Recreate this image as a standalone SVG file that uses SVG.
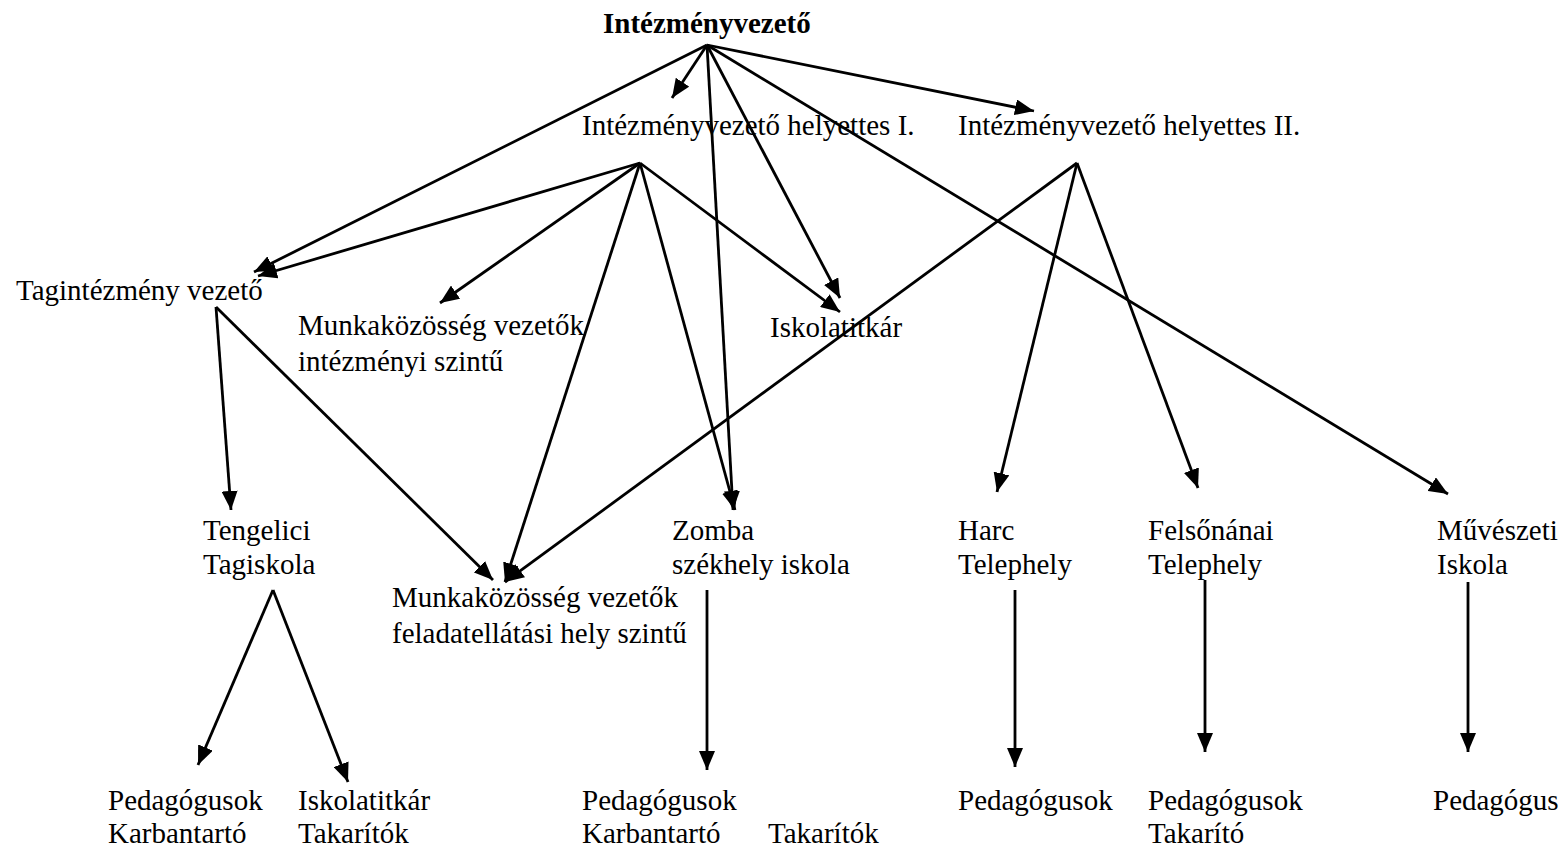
<svg xmlns="http://www.w3.org/2000/svg" width="1561" height="849" viewBox="0 0 1561 849">
<style>
text{font-family:"Liberation Serif","Times New Roman",serif;font-size:29px;fill:#000}
.b{font-weight:bold}
.c line{stroke:#000;stroke-width:2.8}
.c line.a{marker-end:url(#ah)}
</style>
<defs>
<marker id="ah" markerUnits="userSpaceOnUse" markerWidth="20" markerHeight="16" refX="19" refY="8" orient="auto">
<path d="M0,0 L19,8 L0,16 z" fill="#000"/>
</marker>
</defs>
<rect width="1561" height="849" fill="#fff"/>
<g class="c" id="connectors">
<line class="a" x1="707" y1="45" x2="672" y2="98"/>
<line class="a" x1="707" y1="45" x2="1034" y2="111"/>
<line class="a" x1="707" y1="45" x2="254" y2="272"/>
<line class="a" x1="707" y1="45" x2="733" y2="510"/>
<line class="a" x1="707" y1="45" x2="840" y2="298"/>
<line class="a" x1="707" y1="45" x2="1448" y2="494"/>
<line class="a" x1="640" y1="163" x2="258" y2="276"/>
<line class="a" x1="640" y1="163" x2="440" y2="303"/>
<line class="a" x1="640" y1="163" x2="505" y2="582"/>
<line class="a" x1="640" y1="163" x2="735" y2="510"/>
<line class="a" x1="640" y1="163" x2="840" y2="312"/>
<line class="a" x1="1077" y1="163" x2="505" y2="582"/>
<line class="a" x1="1077" y1="163" x2="997" y2="492"/>
<line class="a" x1="1077" y1="163" x2="1198" y2="488"/>
<line class="a" x1="216" y1="307" x2="231" y2="510"/>
<line class="a" x1="216" y1="307" x2="493" y2="580"/>
<line class="a" x1="273" y1="590" x2="198" y2="765"/>
<line class="a" x1="273" y1="590" x2="348" y2="782"/>
<line class="a" x1="707" y1="590" x2="707" y2="770"/>
<line class="a" x1="1015" y1="590" x2="1015" y2="767"/>
<line class="a" x1="1205" y1="580" x2="1205" y2="752"/>
<line class="a" x1="1468" y1="582" x2="1468" y2="752"/>
</g>
<g id="n-vezeto"><text class="b" x="603" y="33">Intézményvezető</text></g>
<g id="n-helyettes1"><text x="582" y="135">Intézményvezető helyettes I.</text></g>
<g id="n-helyettes2"><text x="958" y="135">Intézményvezető helyettes II.</text></g>
<g id="n-tagint"><text x="16" y="300">Tagintézmény vezető</text></g>
<g id="n-mk-int"><text x="298" y="335">Munkaközösség vezetők</text><text x="298" y="371">intézményi szintű</text></g>
<g id="n-titkar"><text x="770" y="337">Iskolatitkár</text></g>
<g id="n-tengelici"><text x="203" y="540">Tengelici</text><text x="203" y="574">Tagiskola</text></g>
<g id="n-mk-fel"><text x="392" y="607">Munkaközösség vezetők</text><text x="392" y="643">feladatellátási hely szintű</text></g>
<g id="n-zomba"><text x="672" y="540">Zomba</text><text x="672" y="574">székhely iskola</text></g>
<g id="n-harc"><text x="958" y="540">Harc</text><text x="958" y="574">Telephely</text></g>
<g id="n-felsonanai"><text x="1148" y="540">Felsőnánai</text><text x="1148" y="574">Telephely</text></g>
<g id="n-muveszeti"><text x="1437" y="540">Művészeti</text><text x="1437" y="574">Iskola</text></g>
<g id="n-teng-ped"><text x="108" y="810">Pedagógusok</text><text x="108" y="843">Karbantartó</text></g>
<g id="n-teng-titkar"><text x="298" y="810">Iskolatitkár</text><text x="298" y="843">Takarítók</text></g>
<g id="n-zomba-ped"><text x="582" y="810">Pedagógusok</text><text x="582" y="843">Karbantartó</text><text x="768" y="843">Takarítók</text></g>
<g id="n-harc-ped"><text x="958" y="810">Pedagógusok</text></g>
<g id="n-felso-ped"><text x="1148" y="810">Pedagógusok</text><text x="1148" y="843">Takarító</text></g>
<g id="n-muv-ped"><text x="1433" y="810">Pedagógus</text></g>
</svg>
